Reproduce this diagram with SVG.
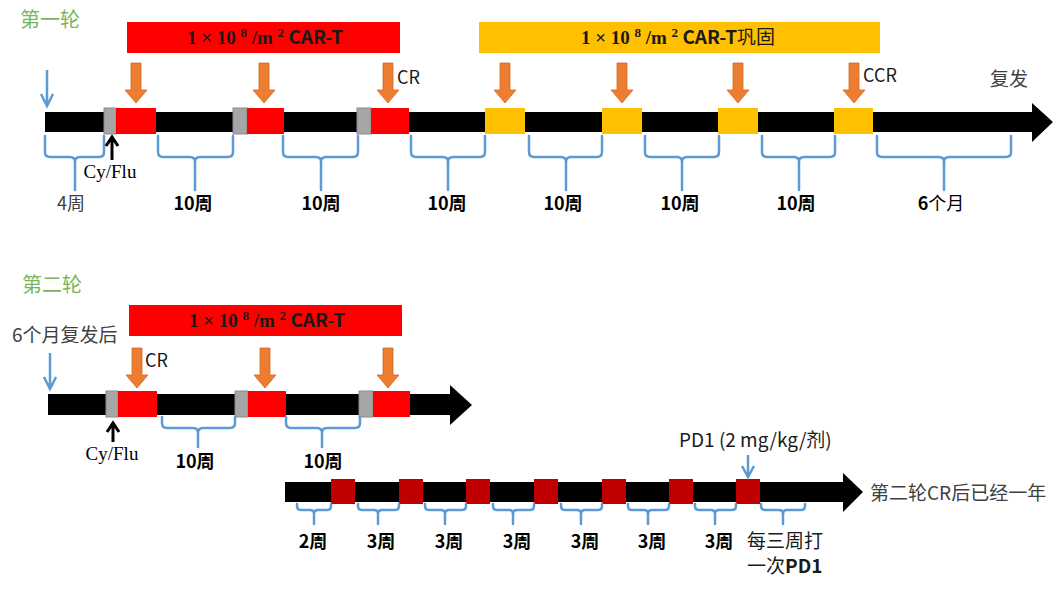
<svg xmlns="http://www.w3.org/2000/svg" xmlns:xlink="http://www.w3.org/1999/xlink" width="1063" height="589" viewBox="0 0 1063 589">
<style>
.bar{fill:#000}
.red{fill:#FF0000}
.yel{fill:#FFC000}
.gray{fill:#A6A6A6;stroke:#8C8C8C;stroke-width:1}
.dred{fill:#C00000}
.brace{fill:none;stroke:#5B9BD5;stroke-width:2.5;stroke-linecap:round;stroke-linejoin:round}
.barrow{fill:none;stroke:#5B9BD5;stroke-width:2.5}
.karrow{fill:none;stroke:#000;stroke-width:3}
.oarr{fill:#ED7D31;stroke:#D2692A;stroke-width:0.8}
.sans{font-family:"Noto Sans CJK SC","Noto Sans",sans-serif}
.serif{font-family:"Liberation Serif",serif}
.title{font-size:20px;fill:#7AB45A}
.lab{font-size:18px;font-weight:bold;fill:#000}
.ban{font-size:19px;font-weight:bold;fill:#1A1A1A}
.sup{font-size:13px}
.note{font-size:18px;fill:#1A1A1A}
.gtxt{font-size:19px;fill:#404040}
</style>
<defs>
<path id="oa" d="M-5,0 L5,0 L5,27 L11,27 L0,40 L-11,27 L-5,27 Z"/>
</defs>

<!-- Round 1 -->
<g id="title1"><text class="sans title" x="20" y="27">第一轮</text></g>
<g id="banner1">
<rect class="red" x="127" y="22" width="273" height="31"/>
<text class="ban" x="265" y="44" text-anchor="middle"><tspan class="serif">1 × 10 </tspan><tspan class="serif sup" dy="-7">8</tspan><tspan class="serif" dy="7"> /m </tspan><tspan class="serif sup" dy="-7">2</tspan><tspan class="sans" dy="7"> CAR-T</tspan></text>
</g>
<g id="banner2">
<rect class="yel" x="479" y="22" width="401" height="31"/>
<text class="ban" x="678" y="44" text-anchor="middle"><tspan class="serif">1 × 10 </tspan><tspan class="serif sup" dy="-7">8</tspan><tspan class="serif" dy="7"> /m </tspan><tspan class="serif sup" dy="-7">2</tspan><tspan class="sans" dy="7"> CAR-T</tspan><tspan class="sans" font-weight="normal">巩固</tspan></text>
</g>
<g id="timeline1">
<path class="bar" d="M45,112 H1032 V103 L1053,122 L1032,142 V132 H45 Z"/>
<rect class="gray" x="104" y="108" width="12" height="26"/>
<rect class="red" x="116" y="108" width="40" height="26"/>
<rect class="gray" x="233" y="108" width="14" height="26"/>
<rect class="red" x="247" y="108" width="37" height="26"/>
<rect class="gray" x="357" y="108" width="14" height="26"/>
<rect class="red" x="371" y="108" width="38" height="26"/>
<rect class="yel" x="485" y="108" width="40" height="26"/>
<rect class="yel" x="602" y="108" width="40" height="26"/>
<rect class="yel" x="718" y="108" width="40" height="26"/>
<rect class="yel" x="834" y="108" width="39" height="26"/>
</g>
<g id="labels1">
<text class="sans note" x="397" y="84">CR</text>
<text class="sans note" x="863" y="82">CCR</text>
<text class="sans gtxt" x="990" y="86">复发</text>
<text class="serif" x="110" y="178" font-size="19" text-anchor="middle" fill="#000">Cy/Flu</text>
<text class="sans" x="71" y="210" font-size="18" text-anchor="middle" fill="#404040">4周</text>
<text class="sans lab" x="193" y="210" text-anchor="middle">10周</text>
<text class="sans lab" x="321" y="210" text-anchor="middle">10周</text>
<text class="sans lab" x="447" y="210" text-anchor="middle">10周</text>
<text class="sans lab" x="563" y="210" text-anchor="middle">10周</text>
<text class="sans lab" x="680" y="210" text-anchor="middle">10周</text>
<text class="sans lab" x="796" y="210" text-anchor="middle">10周</text>
<text class="sans lab" x="941" y="210" text-anchor="middle">6<tspan font-weight="normal">个月</tspan></text>
</g>

<!-- Round 2 -->
<g id="title2"><text class="sans title" x="22" y="292">第二轮</text></g>
<g id="relapse"><text class="sans gtxt" x="12" y="342">6个月复发后</text></g>
<g id="banner3">
<rect class="red" x="129" y="305" width="273" height="31"/>
<text class="ban" x="267" y="327" text-anchor="middle"><tspan class="serif">1 × 10 </tspan><tspan class="serif sup" dy="-7">8</tspan><tspan class="serif" dy="7"> /m </tspan><tspan class="serif sup" dy="-7">2</tspan><tspan class="sans" dy="7"> CAR-T</tspan></text>
</g>
<g id="timeline2">
<path class="bar" d="M48,394 H450 V385 L472,405 L450,425 V415 H48 Z"/>
<rect class="gray" x="106" y="391" width="12" height="26"/>
<rect class="red" x="118" y="391" width="39" height="26"/>
<rect class="gray" x="235" y="391" width="13" height="26"/>
<rect class="red" x="248" y="391" width="38" height="26"/>
<rect class="gray" x="359" y="391" width="14" height="26"/>
<rect class="red" x="373" y="391" width="37" height="26"/>
</g>
<g id="labels2">
<text class="sans note" x="145" y="367">CR</text>
<text class="serif" x="112" y="460" font-size="19" text-anchor="middle" fill="#000">Cy/Flu</text>
<text class="sans lab" x="195" y="468" text-anchor="middle">10周</text>
<text class="sans lab" x="323" y="468" text-anchor="middle">10周</text>
</g>

<!-- Round 2 follow-up (PD1) -->
<g id="timeline3">
<path class="bar" d="M285,482 H843 V473 L863,492 L843,512 V502 H285 Z"/>
<rect class="dred" x="331" y="479" width="24" height="25"/>
<rect class="dred" x="399" y="479" width="24" height="25"/>
<rect class="dred" x="466" y="479" width="24" height="25"/>
<rect class="dred" x="534" y="479" width="24" height="25"/>
<rect class="dred" x="602" y="479" width="24" height="25"/>
<rect class="dred" x="669" y="479" width="24" height="25"/>
<rect class="dred" x="736" y="479" width="24" height="25"/>
</g>
<g id="labels3">
<text class="sans" x="679" y="447" font-size="19" fill="#1A1A1A">PD1 (2 mg/kg/剂)</text>
<text class="sans gtxt" x="870" y="500">第二轮CR后已经一年</text>
<text class="sans lab" x="313" y="548" text-anchor="middle">2周</text>
<text class="sans lab" x="381" y="548" text-anchor="middle">3周</text>
<text class="sans lab" x="449" y="548" text-anchor="middle">3周</text>
<text class="sans lab" x="517" y="548" text-anchor="middle">3周</text>
<text class="sans lab" x="585" y="548" text-anchor="middle">3周</text>
<text class="sans lab" x="652" y="548" text-anchor="middle">3周</text>
<text class="sans lab" x="719" y="548" text-anchor="middle">3周</text>
<text class="sans" x="747" y="548" font-size="19" fill="#1A1A1A">每三周打</text>
<text class="sans" x="747" y="573" font-size="19" fill="#1A1A1A">一次<tspan font-weight="bold">PD1</tspan></text>
</g>

<!-- Braces -->
<g id="braces">
<path class="brace" d="M45,136 V152 Q45,157 50,157 H70 Q75,157 75,162 V190 M75,162 Q75,157 80,157 H99 Q104,157 104,152 V136"/>
<path class="brace" d="M158,136 V152 Q158,157 163,157 H190 Q195,157 195,162 V190 M195,162 Q195,157 200,157 H228 Q233,157 233,152 V136"/>
<path class="brace" d="M283,136 V152 Q283,157 288,157 H316 Q321,157 321,162 V190 M321,162 Q321,157 326,157 H353 Q358,157 358,152 V136"/>
<path class="brace" d="M411,136 V152 Q411,157 416,157 H443 Q448,157 448,162 V190 M448,162 Q448,157 453,157 H480 Q485,157 485,152 V136"/>
<path class="brace" d="M529,136 V152 Q529,157 534,157 H561 Q566,157 566,162 V190 M566,162 Q566,157 571,157 H597 Q602,157 602,152 V136"/>
<path class="brace" d="M645,136 V152 Q645,157 650,157 H677 Q682,157 682,162 V190 M682,162 Q682,157 687,157 H714 Q719,157 719,152 V136"/>
<path class="brace" d="M762,136 V152 Q762,157 767,157 H794 Q799,157 799,162 V190 M799,162 Q799,157 804,157 H830 Q835,157 835,152 V136"/>
<path class="brace" d="M877,136 V152 Q877,157 882,157 H939 Q944,157 944,162 V190 M944,162 Q944,157 949,157 H1006 Q1011,157 1011,152 V136"/>

<path class="brace" d="M162,417 V423 Q162,428 167,428 H193 Q198,428 198,433 V447 M198,433 Q198,428 203,428 H230 Q235,428 235,423 V417"/>
<path class="brace" d="M286,417 V423 Q286,428 291,428 H317 Q322,428 322,433 V447 M322,433 Q322,428 327,428 H355 Q360,428 360,423 V417"/>

<path class="brace" d="M297,504 V506 Q297,510 301,510 H310 Q314,510 314,514 V524 M314,514 Q314,510 318,510 H327 Q331,510 331,506 V504"/>
<path class="brace" d="M358,504 V506 Q358,510 362,510 H374 Q378,510 378,514 V524 M378,514 Q378,510 382,510 H395 Q399,510 399,506 V504"/>
<path class="brace" d="M425,504 V506 Q425,510 429,510 H441 Q445,510 445,514 V524 M445,514 Q445,510 449,510 H462 Q466,510 466,506 V504"/>
<path class="brace" d="M493,504 V506 Q493,510 497,510 H509 Q513,510 513,514 V524 M513,514 Q513,510 517,510 H530 Q534,510 534,506 V504"/>
<path class="brace" d="M561,504 V506 Q561,510 565,510 H577 Q581,510 581,514 V524 M581,514 Q581,510 585,510 H598 Q602,510 602,506 V504"/>
<path class="brace" d="M628,504 V506 Q628,510 632,510 H644 Q648,510 648,514 V524 M648,514 Q648,510 652,510 H665 Q669,510 669,506 V504"/>
<path class="brace" d="M695,504 V506 Q695,510 699,510 H711 Q715,510 715,514 V524 M715,514 Q715,510 719,510 H732 Q736,510 736,506 V504"/>
<path class="brace" d="M761,504 V506 Q761,510 765,510 H779 Q783,510 783,514 V524 M783,514 Q783,510 787,510 H801 Q805,510 805,506 V504"/>
</g>

<!-- Connectors / arrows -->
<g id="connectors">
<use xlink:href="#oa" href="#oa" class="oarr" transform="translate(136,63)"/>
<use xlink:href="#oa" href="#oa" class="oarr" transform="translate(264,63)"/>
<use xlink:href="#oa" href="#oa" class="oarr" transform="translate(388,63)"/>
<use xlink:href="#oa" href="#oa" class="oarr" transform="translate(505,63)"/>
<use xlink:href="#oa" href="#oa" class="oarr" transform="translate(622,63)"/>
<use xlink:href="#oa" href="#oa" class="oarr" transform="translate(738,63)"/>
<use xlink:href="#oa" href="#oa" class="oarr" transform="translate(854,63)"/>
<use xlink:href="#oa" href="#oa" class="oarr" transform="translate(137,348)"/>
<use xlink:href="#oa" href="#oa" class="oarr" transform="translate(265,348)"/>
<use xlink:href="#oa" href="#oa" class="oarr" transform="translate(388,348)"/>
<path class="barrow" d="M47,70 V106 M41,94 L47,106 L53,94"/>
<path class="barrow" d="M50,353 V389 M44,377 L50,389 L56,377"/>
<path class="barrow" d="M748,455 V477 M742,466 L748,477 L754,466"/>
<path class="karrow" d="M112,160 V137 M106,146 L112,137 L118,146"/>
<path class="karrow" d="M113,442 V423 M107,432 L113,423 L119,432"/>
</g>
</svg>
